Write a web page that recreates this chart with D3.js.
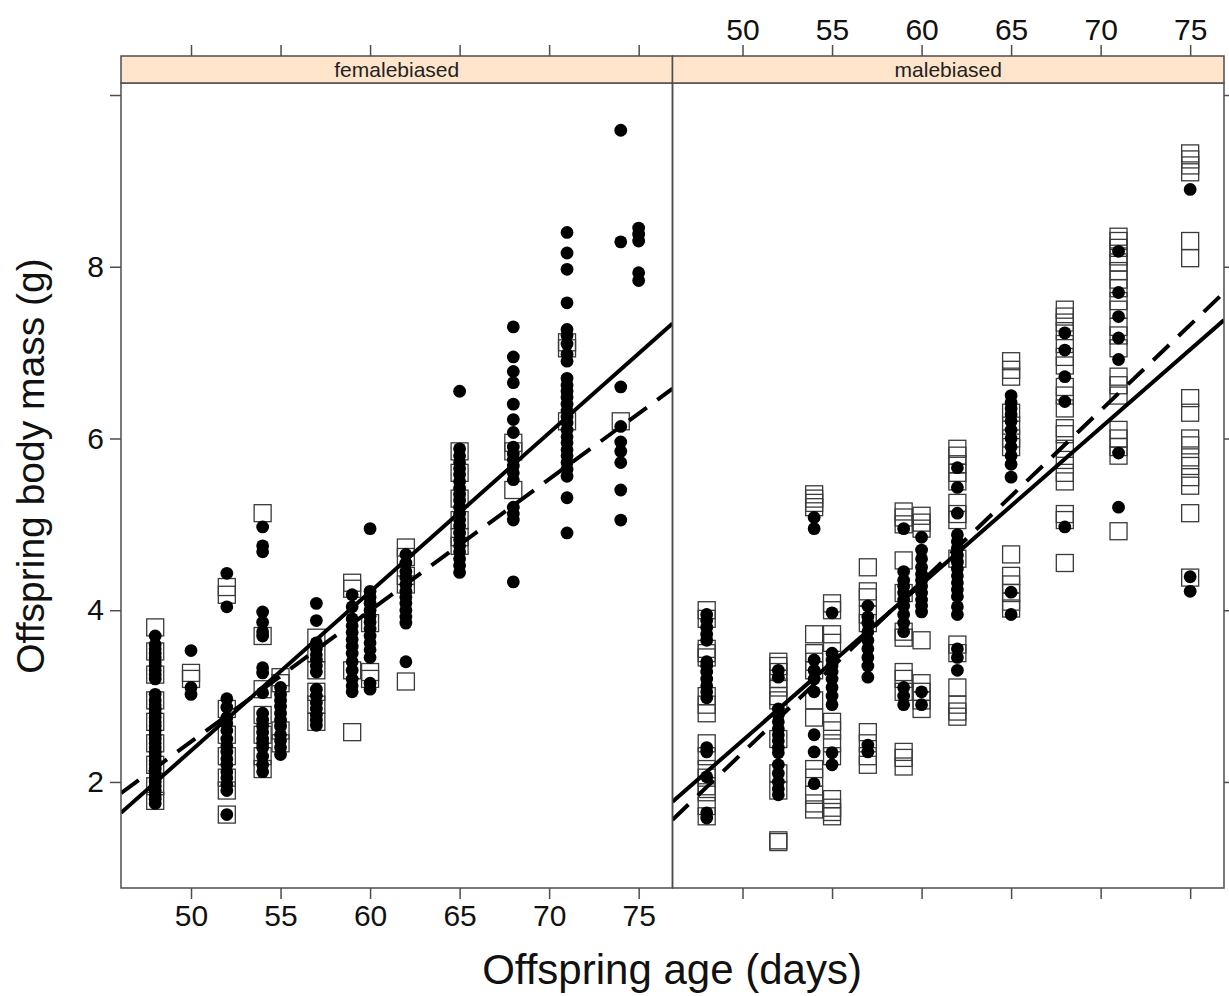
<!DOCTYPE html>
<html>
<head>
<meta charset="utf-8">
<script src="https://cdn.jsdelivr.net/npm/d3@7"></script>
<style>
  body { margin: 0; background: #fff; }
  svg { font-family: "Liberation Sans", Arial, sans-serif; }
</style>
</head>
<body>
<div id="wrapper"></div>
<script>
// Data: [age, [masses]]
const panels = ['femalebiased', 'malebiased']

const femaleCircles = [
  [48, [3.7, 3.6, 3.55, 3.5, 3.45, 3.4, 3.35, 3.3, 3.25, 3.2, 3.02, 2.95, 2.9, 2.85, 2.8, 2.75, 2.7, 2.65, 2.6, 2.55, 2.5, 2.45, 2.4, 2.35, 2.3, 2.25, 2.2, 2.15, 2.1, 2.05, 2.0, 1.95, 1.9, 1.85, 1.8, 1.75]],
  [50, [3.53, 3.1, 3.02]],
  [52, [4.43, 4.04, 2.97, 2.87, 2.75, 2.68, 2.6, 2.5, 2.42, 2.35, 2.27, 2.2, 2.12, 2.05, 1.97, 1.9, 1.62]],
  [54, [4.97, 4.75, 4.68, 3.98, 3.86, 3.75, 3.7, 3.33, 3.27, 3.04, 2.8, 2.72, 2.65, 2.58, 2.5, 2.45, 2.4, 2.3, 2.2, 2.12]],
  [55, [3.1, 3.02, 2.95, 2.88, 2.8, 2.72, 2.65, 2.55, 2.48, 2.4, 2.32]],
  [57, [4.08, 3.88, 3.62, 3.55, 3.48, 3.42, 3.35, 3.28, 3.08, 3.0, 2.92, 2.85, 2.78, 2.72, 2.66]],
  [59, [4.18, 4.04, 3.9, 3.82, 3.74, 3.66, 3.58, 3.5, 3.4, 3.3, 3.2, 3.12, 3.05]],
  [60, [4.95, 4.22, 4.15, 4.08, 4.0, 3.93, 3.86, 3.78, 3.7, 3.62, 3.54, 3.45, 3.15, 3.08]],
  [62, [4.65, 4.55, 4.45, 4.38, 4.3, 4.22, 4.15, 4.08, 4.0, 3.92, 3.85, 3.4]],
  [65, [6.55, 5.88, 5.8, 5.72, 5.65, 5.58, 5.5, 5.42, 5.35, 5.28, 5.2, 5.12, 5.05, 4.98, 4.9, 4.82, 4.75, 4.68, 4.6, 4.52, 4.44]],
  [68, [7.3, 6.95, 6.78, 6.65, 6.4, 6.22, 6.07, 5.9, 5.82, 5.75, 5.68, 5.6, 5.52, 5.2, 5.12, 5.05, 4.33]],
  [71, [8.4, 8.16, 7.97, 7.58, 7.27, 7.2, 7.1, 6.98, 6.9, 6.7, 6.62, 6.55, 6.48, 6.4, 6.32, 6.25, 6.18, 6.1, 6.02, 5.95, 5.87, 5.8, 5.72, 5.64, 5.56, 5.31, 4.9]],
  [74, [9.59, 8.29, 6.6, 6.14, 5.96, 5.85, 5.72, 5.4, 5.05]],
  [75, [8.45, 8.38, 8.3, 7.93, 7.84]],
]

const femaleSquares = [
  [48, [3.8, 3.52, 3.25, 2.95, 2.7, 2.45, 2.2, 1.95, 1.78]],
  [50, [3.27, 3.2]],
  [52, [4.27, 4.18, 2.85, 2.55, 2.3, 2.05, 1.9, 1.62]],
  [54, [5.13, 3.7, 3.08, 2.78, 2.55, 2.3, 2.15]],
  [55, [3.22, 3.15, 2.6, 2.45]],
  [57, [3.68, 3.5, 3.3, 3.05, 2.9, 2.7]],
  [59, [4.32, 4.25, 3.3, 2.58]],
  [60, [3.85, 3.28, 3.2]],
  [62, [4.73, 4.62, 4.4, 4.3, 3.17]],
  [65, [5.85, 5.6, 5.3, 5.05, 4.85, 4.75]],
  [68, [5.95, 5.85, 5.4]],
  [71, [7.12, 7.05, 6.2]],
  [74, [6.2]],
]

const maleCircles = [
  [48, [3.95, 3.88, 3.8, 3.72, 3.65, 3.4, 3.35, 3.28, 3.2, 3.12, 3.05, 2.98, 2.4, 2.35, 2.06, 1.64, 1.58]],
  [52, [3.3, 3.22, 2.85, 2.78, 2.7, 2.62, 2.55, 2.48, 2.4, 2.34, 2.2, 2.1, 2.0, 1.92, 1.85]],
  [54, [5.08, 4.95, 3.42, 3.3, 3.2, 3.05, 2.55, 2.35, 1.98]],
  [55, [3.97, 3.5, 3.42, 3.35, 3.28, 3.2, 3.1, 3.0, 2.9, 2.34, 2.2]],
  [57, [4.05, 3.92, 3.85, 3.75, 3.65, 3.55, 3.45, 3.35, 3.22, 2.43, 2.35]],
  [59, [4.95, 4.45, 4.35, 4.28, 4.2, 4.12, 4.05, 3.95, 3.85, 3.75, 3.1, 3.0, 2.9]],
  [60, [4.85, 4.7, 4.6, 4.5, 4.42, 4.35, 4.28, 4.2, 4.12, 4.05, 3.98, 3.05, 2.9]],
  [62, [5.66, 5.43, 5.13, 4.88, 4.8, 4.72, 4.64, 4.56, 4.48, 4.4, 4.32, 4.24, 4.16, 4.04, 3.95, 3.55, 3.45, 3.3]],
  [65, [6.5, 6.42, 6.35, 6.28, 6.2, 6.1, 6.0, 5.9, 5.8, 5.7, 5.55, 4.21, 3.95]],
  [68, [7.23, 7.03, 6.72, 6.43, 4.97]],
  [71, [8.18, 7.7, 7.42, 7.17, 6.92, 5.83, 5.2]],
  [75, [8.9, 4.39, 4.22]],
]

const maleSquares = [
  [48, [4.0, 3.9, 3.55, 3.5, 3.45, 3.0, 2.9, 2.8, 2.45, 2.3, 2.15, 2.05, 1.95, 1.88, 1.72, 1.6]],
  [52, [3.4, 3.35, 3.28, 3.2, 3.1, 3.0, 2.95, 2.5, 2.1, 1.9, 1.32, 1.3]],
  [54, [5.35, 5.3, 5.25, 5.2, 3.72, 3.5, 3.4, 3.3, 2.95, 2.75, 2.15, 2.05, 1.85, 1.75, 1.68]],
  [55, [4.08, 4.0, 3.72, 3.62, 2.7, 2.6, 2.45, 2.3, 1.8, 1.7, 1.65, 1.6]],
  [57, [4.5, 4.22, 4.15, 3.95, 3.85, 2.58, 2.45, 2.3, 2.2]],
  [59, [5.15, 5.08, 5.0, 4.58, 4.2, 3.75, 3.68, 3.28, 3.2, 3.05, 2.35, 2.28, 2.18]],
  [60, [5.1, 5.02, 4.95, 3.65, 3.15, 3.05, 2.95, 2.85]],
  [62, [5.88, 5.8, 5.7, 5.6, 5.5, 5.25, 5.12, 5.05, 4.6, 3.6, 3.5, 3.1, 2.9, 2.82, 2.76]],
  [65, [6.9, 6.8, 6.72, 6.3, 6.15, 6.0, 5.9, 4.65, 4.4, 4.3, 4.2, 4.1, 4.02]],
  [68, [7.5, 7.42, 7.35, 7.25, 7.1, 6.95, 6.85, 6.6, 6.5, 6.35, 6.12, 6.05, 5.88, 5.75, 5.6, 5.5, 5.12, 5.05, 4.55]],
  [71, [8.35, 8.3, 8.22, 8.12, 8.05, 7.95, 7.85, 7.75, 7.6, 7.5, 7.3, 7.2, 7.05, 6.72, 6.62, 6.5, 6.1, 6.0, 5.9, 5.8, 4.92]],
  [75, [9.32, 9.25, 9.18, 9.1, 8.3, 8.1, 6.47, 6.3, 6.0, 5.92, 5.78, 5.68, 5.55, 5.45, 5.13, 4.38]],
]

// fitted lines, [age, mass] at the two panel edges
const femaleSolid = [[46.09, 1.64], [76.89, 7.34]]
const femaleDashed = [[46.09, 1.87], [76.89, 6.58]]
const maleSolid = [[46.09, 1.77], [76.89, 7.38]]
const maleDashed = [[46.09, 1.56], [76.89, 7.7]]

const xTicks = [50, 55, 60, 65, 70, 75]
const yTicks = [2, 4, 6, 8, 10]
const yTickLabels = ['2', '4', '6', '8', '']

function drawPlots() {
  const dimensions = {
    width: 1229,
    height: 996,
    panelLeft: 121,
    panelWidth: 551.5,
    panelTop: 83,
    panelBottom: 888,
    stripHeight: 27,
  }

  const wrapper = d3.select('#wrapper')
    .append('svg')
      .attr('width', dimensions.width)
      .attr('height', dimensions.height)

  const xScale = d3.scaleLinear()
    .domain([46.09, 76.89])
    .range([0, dimensions.panelWidth])

  const yScale = d3.scaleLinear()
    .domain([0.765, 10.14])
    .range([dimensions.panelBottom, dimensions.panelTop])

  const flatten = rows => rows.flatMap(([age, ms]) => ms.map(m => ({age, m})))

  const panelData = [
    {name: panels[0], circles: femaleCircles, squares: femaleSquares, solid: femaleSolid, dashed: femaleDashed},
    {name: panels[1], circles: maleCircles, squares: maleSquares, solid: maleSolid, dashed: maleDashed},
  ]

  const borderColor = '#4d4d4d'

  panelData.forEach((p, i) => {
    const left = dimensions.panelLeft + i * dimensions.panelWidth
    const g = wrapper.append('g')
      .attr('transform', `translate(${left},0)`)

    g.append('clipPath')
        .attr('id', `clip${i}`)
      .append('rect')
        .attr('x', 0)
        .attr('y', dimensions.panelTop)
        .attr('width', dimensions.panelWidth)
        .attr('height', dimensions.panelBottom - dimensions.panelTop)

    const plot = g.append('g').attr('clip-path', `url(#clip${i})`)

    // open squares
    const s = 17
    plot.selectAll('rect.sq')
      .data(flatten(p.squares))
      .join('rect')
        .attr('class', 'sq')
        .attr('x', d => xScale(d.age) - s / 2)
        .attr('y', d => yScale(d.m) - s / 2)
        .attr('width', s)
        .attr('height', s)
        .attr('fill', 'none')
        .attr('stroke', '#3a3a3a')
        .attr('stroke-width', 1.3)

    // filled circles
    plot.selectAll('circle')
      .data(flatten(p.circles))
      .join('circle')
        .attr('cx', d => xScale(d.age))
        .attr('cy', d => yScale(d.m))
        .attr('r', 6.4)
        .attr('fill', '#000')

    const lineGenerator = d3.line()
      .x(d => xScale(d[0]))
      .y(d => yScale(d[1]))

    plot.append('path')
      .attr('d', lineGenerator(p.solid))
      .attr('fill', 'none')
      .attr('stroke', '#000')
      .attr('stroke-width', 4)

    plot.append('path')
      .attr('d', lineGenerator(p.dashed))
      .attr('fill', 'none')
      .attr('stroke', '#000')
      .attr('stroke-width', 4)
      .attr('stroke-dasharray', '22,13')

    // panel border
    g.append('rect')
      .attr('x', 0)
      .attr('y', dimensions.panelTop)
      .attr('width', dimensions.panelWidth)
      .attr('height', dimensions.panelBottom - dimensions.panelTop)
      .attr('fill', 'none')
      .attr('stroke', borderColor)
      .attr('stroke-width', 1.5)

    // strip
    const stripTop = dimensions.panelTop - dimensions.stripHeight
    g.append('rect')
      .attr('x', 0)
      .attr('y', stripTop)
      .attr('width', dimensions.panelWidth)
      .attr('height', dimensions.stripHeight)
      .attr('fill', '#ffe5cc')
      .attr('stroke', borderColor)
      .attr('stroke-width', 1.5)

    g.append('text')
      .attr('x', dimensions.panelWidth / 2)
      .attr('y', stripTop + dimensions.stripHeight / 2 + 7)
      .attr('text-anchor', 'middle')
      .attr('font-size', 21)
      .attr('fill', '#222')
      .text(p.name)

    // x axes: bottom labelled on first panel, top labelled on second
    const bottomAxis = d3.axisBottom(xScale)
      .tickValues(xTicks)
      .tickSize(11)
      .tickPadding(6)
      .tickFormat(i === 0 ? d3.format('d') : '')
    const bx = g.append('g')
      .attr('transform', `translate(0,${dimensions.panelBottom})`)
      .call(bottomAxis)

    const topAxis = d3.axisTop(xScale)
      .tickValues(xTicks)
      .tickSize(11)
      .tickPadding(5)
      .tickFormat(i === 1 ? d3.format('d') : '')
    const tx = g.append('g')
      .attr('transform', `translate(0,${stripTop})`)
      .call(topAxis)

    // y axes: left labelled on first panel, right unlabelled on second
    let yx
    if (i === 0) {
      yx = g.append('g')
        .call(d3.axisLeft(yScale)
          .tickValues(yTicks)
          .tickSize(11)
          .tickPadding(6)
          .tickFormat((d, k) => yTickLabels[k]))
    } else {
      yx = g.append('g')
        .attr('transform', `translate(${dimensions.panelWidth},0)`)
        .call(d3.axisRight(yScale)
          .tickValues(yTicks)
          .tickSize(11)
          .tickFormat(''))
    }

    ;[bx, tx, yx].forEach(ax => {
      ax.select('.domain').remove()
      ax.selectAll('.tick line').attr('stroke', borderColor).attr('stroke-width', 1.5)
      ax.selectAll('.tick text')
        .attr('font-size', 30)
        .attr('fill', '#111')
        .attr('font-family', '"Liberation Sans", Arial, sans-serif')
    })
  })

  // axis titles
  wrapper.append('text')
    .attr('x', 672)
    .attr('y', 984)
    .attr('text-anchor', 'middle')
    .attr('font-size', 42)
    .attr('fill', '#111')
    .text('Offspring age (days)')

  wrapper.append('text')
    .attr('transform', 'translate(44,466) rotate(-90)')
    .attr('text-anchor', 'middle')
    .attr('font-size', 39)
    .attr('fill', '#111')
    .text('Offspring body mass (g)')
}

drawPlots()
</script>
</body>
</html>
